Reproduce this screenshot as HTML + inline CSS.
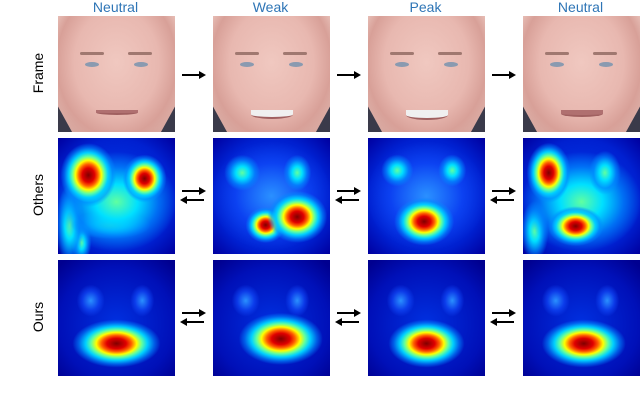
<!DOCTYPE html>
<html><head><meta charset="utf-8"><style>
body{margin:0;width:640px;height:408px;background:#fff;position:relative;overflow:hidden;font-family:"Liberation Sans",sans-serif}
.t{position:absolute;top:-1px;width:117px;text-align:center;color:#2e75b6;font-size:14px}
.rl{position:absolute;left:30px;width:120px;text-align:center;font-size:14px;transform:rotate(-90deg);transform-origin:0 0;color:#000}
.p{position:absolute;width:117px;height:116px;overflow:hidden}
.face{background:#3a3a4a}
.skin{position:absolute;left:0;top:0;width:117px;height:116px;background:radial-gradient(ellipse 60% 75% at 50% 40%,#f0c8c0 0%,#e8b8b0 60%,#d8a098 85%,rgba(200,150,140,0) 100%),linear-gradient(#e8c0b8,#d8a8a0);clip-path:polygon(0 0,100% 0,100% 78%,88% 100%,12% 100%,0 78%)}
.eye{position:absolute;width:14px;height:5px;border-radius:50%;background:#8a9ab0;top:46px}
.brow{position:absolute;width:24px;height:3px;background:#a07870;top:36px;border-radius:2px}
.mouth{position:absolute;left:38px;width:42px;height:3px;background:#b07070;top:94px;border-radius:2px}
.hm{background:#0010b0}
.ar{position:absolute;width:22px;height:2px;background:#000}
.ar.r::after{content:"";position:absolute;right:-2px;top:-3px;border-left:7px solid #000;border-top:4px solid transparent;border-bottom:4px solid transparent}
.ar.l::after{content:"";position:absolute;left:-2px;top:-3px;border-right:7px solid #000;border-top:4px solid transparent;border-bottom:4px solid transparent}
</style></head><body>
<div class="t" style="left:57px">Neutral</div>
<div class="t" style="left:212px">Weak</div>
<div class="t" style="left:367px">Peak</div>
<div class="t" style="left:522px">Neutral</div>
<div class="rl" style="top:133px">Frame</div>
<div class="rl" style="top:255px">Others</div>
<div class="rl" style="top:377px">Ours</div>
<div id="root"></div>
<script>
const cols=[58,213,368,523];
const rows=[16,138,260];
const mouthCurve=[0,8,10,3];
const red=(x,y,rx,ry)=>`radial-gradient(ellipse ${rx}px ${ry}px at ${x}% ${y}%,#800000 0%,#e00000 22%,#ff6000 34%,#ffff00 46%,#60ffa0 58%,#00d0ff 70%,rgba(0,140,255,0.6) 86%,rgba(0,80,255,0) 100%)`;
const cyan=(x,y,rx,ry)=>`radial-gradient(ellipse ${rx}px ${ry}px at ${x}% ${y}%,#60ffa0 0%,#00e0ff 35%,rgba(0,140,255,0.7) 70%,rgba(0,80,255,0) 100%)`;
const lb=(x,y,rx,ry)=>`radial-gradient(ellipse ${rx}px ${ry}px at ${x}% ${y}%,#2a90ff 0%,rgba(20,80,255,0.6) 60%,rgba(0,40,255,0) 100%)`;
const base='radial-gradient(ellipse 70% 70% at 50% 50%,#0040f0,#0020d0 70%,#0000a0)';
const others=[
 [red(26,32,28,32),red(74,35,22,24),cyan(50,55,60,50),cyan(45,75,40,14),cyan(10,75,14,40),cyan(20,90,10,20)],
 [red(72,68,30,26),red(45,75,20,18),cyan(25,30,18,18),cyan(72,30,14,18),lb(50,50,60,55)],
 [red(48,72,30,24),cyan(25,28,16,16),cyan(72,28,14,16),lb(50,50,60,55)],
 [red(22,30,22,30),red(45,76,28,20),cyan(70,30,16,22),cyan(50,55,60,50),cyan(10,80,14,30)]
];
const ours=[
 [red(50,72,44,24)],[red(58,68,42,26)],[red(50,72,38,24)],[red(52,72,42,24)]
];
const root=document.getElementById('root');
function arrow(x,y,dir,name){
 const a=document.createElement('div');
 
 
 a.className='ar '+dir;a.style.left=x+'px';a.style.top=y+'px';
 root.appendChild(a);
}
cols.forEach((x,i)=>{
 const f=document.createElement('div');
 
 
 f.className='p face';f.style.left=x+'px';f.style.top=rows[0]+'px';
 const c=mouthCurve[i];
 f.innerHTML=`<div class="skin"></div><div class="brow" style="left:22px"></div><div class="brow" style="left:70px"></div><div class="eye" style="left:27px"></div><div class="eye" style="left:76px"></div><div class="mouth" style="height:${3+c/2}px;border-radius:0 0 50% 50%;background:${c>6?'#f0f0f0':'#b07070'};border-bottom:2px solid #a06060"></div>`;
 root.appendChild(f);
 const o=document.createElement('div');
 
 
 o.className='p hm';o.style.left=x+'px';o.style.top=rows[1]+'px';
 o.style.background=others[i].join(',')+','+base;
 root.appendChild(o);
 const u=document.createElement('div');
 
 
 u.className='p hm';u.style.left=x+'px';u.style.top=rows[2]+'px';
 u.style.background=ours[i].join(',')+','+lb(28,35,14,16)+','+lb(72,35,12,16)+','+'radial-gradient(ellipse 70% 70% at 50% 55%,#0030e0,#0010b8 70%,#000090)';
 root.appendChild(u);
});
[182,337,492].forEach((x,i)=>{
 arrow(x,74,'r','arrow-frame-'+(i+1));
 arrow(x,190,'r','arrow-others-right-'+(i+1));
 arrow(x,199,'l','arrow-others-left-'+(i+1));
 arrow(x,312,'r','arrow-ours-right-'+(i+1));
 arrow(x,321,'l','arrow-ours-left-'+(i+1));
});
</script>
</body></html>
